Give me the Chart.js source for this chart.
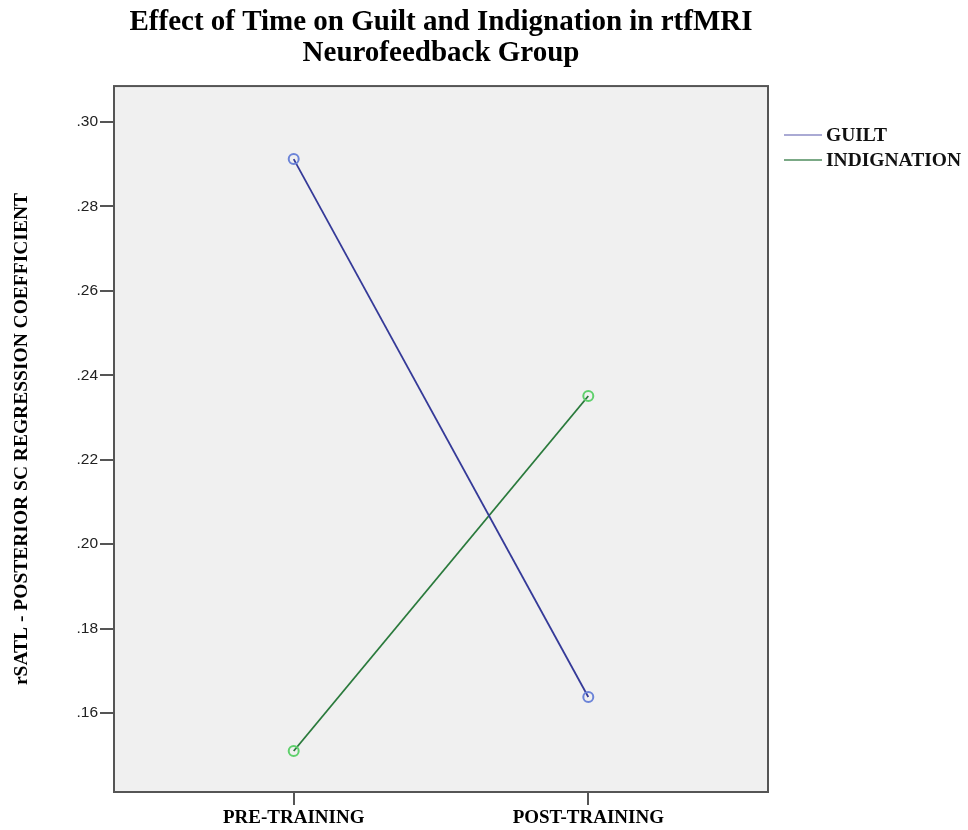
<!DOCTYPE html>
<html>
<head>
<meta charset="utf-8">
<script src="https://cdn.jsdelivr.net/npm/chart.js@4/dist/chart.umd.min.js"></script>
<style>
  html, body { margin: 0; padding: 0; background: #ffffff; }
  #wrap { width: 968px; height: 830px; position: relative; }
</style>
</head>
<body>
<div id="wrap"><canvas id="c" width="968" height="830"></canvas></div>
<script>
// ---- data ----
const categories = ['PRE-TRAINING', 'POST-TRAINING'];
const seriesNames = ['GUILT', 'INDIGNATION'];
const guiltValues = [0.2912, 0.1638];
const indignationValues = [0.1510, 0.2351];
const yTickValues = [0.16, 0.18, 0.20, 0.22, 0.24, 0.26, 0.28, 0.30];
const chartTitle = ['Effect of Time on Guilt and Indignation in rtfMRI', 'Neurofeedback Group'];
const yAxisTitle = 'rSATL - POSTERIOR SC REGRESSION COEFFICIENT';

const SERIF = '"Liberation Serif", "Times New Roman", serif';
const SANS = '"Liberation Sans", Arial, sans-serif';

const lineColors = ['#353a98', '#2a7a3c'];
const pointColors = ['#6c84d8', '#5fd06c'];
const legendColors = ['#8e8ec6', '#4f8c5e'];

const toPoints = arr => arr.map((v, i) => ({ x: i + 1, y: v }));

const frame = {
  id: 'frame',
  beforeDatasetsDraw(chart) {
    const { ctx, chartArea: a } = chart;
    ctx.save();
    ctx.fillStyle = '#f0f0f0';
    ctx.fillRect(a.left, a.top, a.right - a.left, a.bottom - a.top);
    ctx.restore();
  },
  afterDatasetsDraw(chart) {
    const { ctx, chartArea: a } = chart;
    ctx.save();
    ctx.strokeStyle = '#555555';
    ctx.lineWidth = 2;
    ctx.strokeRect(a.left, a.top, a.right - a.left, a.bottom - a.top);
    ctx.restore();
  },
  afterDraw(chart) {
    const { ctx, chartArea: a } = chart;
    ctx.save();
    ctx.font = 'bold 19.5px ' + SERIF;
    ctx.textBaseline = 'middle';
    ctx.textAlign = 'left';
    chart.data.datasets.forEach((ds, i) => {
      const y = 135 + i * 25;
      ctx.strokeStyle = legendColors[i];
      ctx.lineWidth = 1.5;
      ctx.beginPath();
      ctx.moveTo(a.right + 16, y);
      ctx.lineTo(a.right + 54, y);
      ctx.stroke();
      ctx.fillStyle = '#111111';
      ctx.fillText(ds.label, a.right + 58, y + 1);
    });
    ctx.restore();
  }
};

new Chart(document.getElementById('c'), {
  type: 'line',
  data: {
    datasets: [
      {
        label: seriesNames[0],
        data: toPoints(guiltValues),
        borderColor: lineColors[0],
        borderWidth: 1.8,
        pointRadius: 5,
        pointBorderWidth: 2,
        pointBorderColor: pointColors[0],
        pointBackgroundColor: 'rgba(0,0,0,0)',
        fill: false
      },
      {
        label: seriesNames[1],
        data: toPoints(indignationValues),
        borderColor: lineColors[1],
        borderWidth: 1.8,
        pointRadius: 5,
        pointBorderWidth: 2,
        pointBorderColor: pointColors[1],
        pointBackgroundColor: 'rgba(0,0,0,0)',
        fill: false
      }
    ]
  },
  options: {
    responsive: false,
    animation: false,
    devicePixelRatio: 1,
    layout: { padding: { left: 10, right: 200, top: 0, bottom: 0 } },
    plugins: {
      legend: { display: false },
      tooltip: { enabled: false },
      title: {
        display: true,
        fullSize: false,
        text: chartTitle,
        color: '#000000',
        font: { family: SERIF, size: 29, weight: 'bold', lineHeight: 1.07 },
        padding: { top: 7, bottom: 17 }
      }
    },
    scales: {
      x: {
        type: 'linear',
        min: 0.39,
        max: 2.61,
        afterBuildTicks(scale) {
          scale.ticks = categories.map((c, i) => ({ value: i + 1 }));
        },
        afterFit(scale) { scale.height = 38; },
        ticks: {
          callback: v => categories[v - 1] || '',
          color: '#000000',
          font: { family: SERIF, size: 19, weight: 'bold' },
          padding: 2,
          maxRotation: 0,
          autoSkip: false
        },
        grid: {
          drawOnChartArea: false,
          drawTicks: true,
          tickLength: 13,
          tickColor: '#555555',
          lineWidth: 2
        },
        border: { display: false }
      },
      y: {
        type: 'linear',
        min: 0.1413,
        max: 0.3085,
        afterBuildTicks(scale) {
          scale.ticks = yTickValues.map(v => ({ value: v }));
        },
        afterFit(scale) { scale.width = 104; },
        ticks: {
          callback: v => '.' + v.toFixed(2).split('.')[1],
          color: '#222222',
          font: { family: SANS, size: 15.5 },
          padding: 2
        },
        grid: {
          drawOnChartArea: false,
          drawTicks: true,
          tickLength: 14,
          tickColor: '#555555',
          lineWidth: 2
        },
        border: { display: false },
        title: {
          display: true,
          text: yAxisTitle,
          color: '#000000',
          font: { family: SERIF, size: 19.5, weight: 'bold' },
          padding: { top: 0, bottom: 0 }
        }
      }
    }
  },
  plugins: [frame]
});
</script>
</body>
</html>
